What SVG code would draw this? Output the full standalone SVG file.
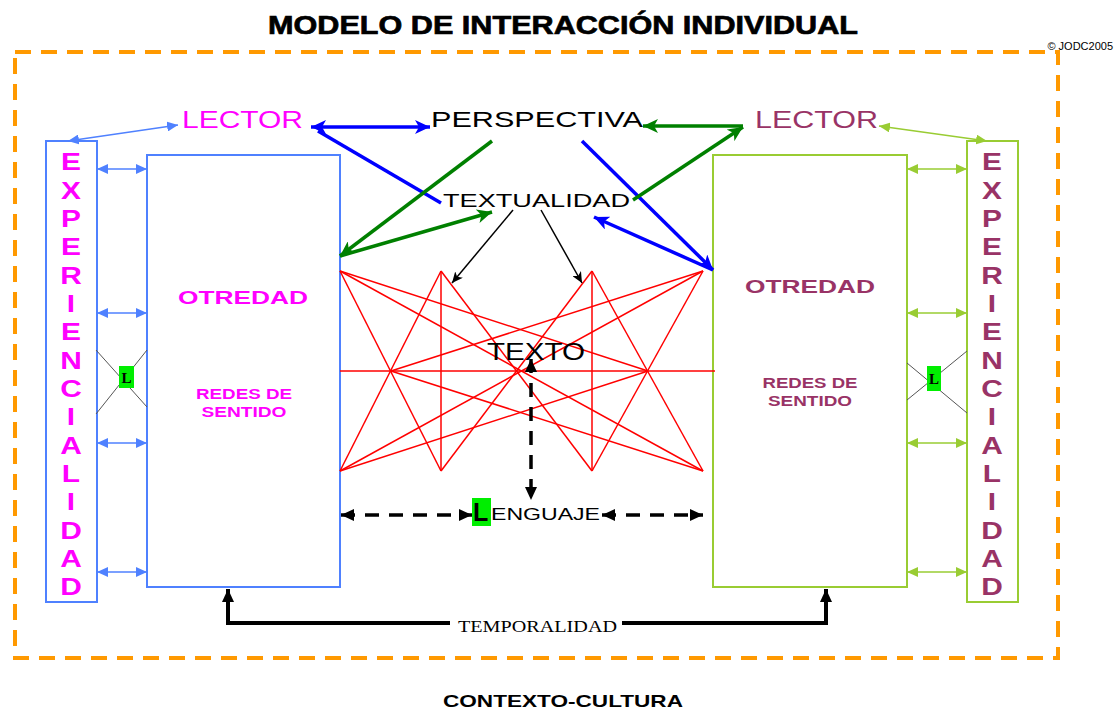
<svg xmlns="http://www.w3.org/2000/svg" width="1117" height="711" viewBox="0 0 1117 711">
<style>
.sans{font-family:"Liberation Sans",Arial,sans-serif}
.serif{font-family:"Liberation Serif","Times New Roman",serif}
.mag{fill:#FF00FF}
.plum{fill:#993366}
.blk{fill:#000}
.red line{stroke:#FF0000;stroke-width:1.5}
.bt{stroke:#4F81FF;stroke-width:1.5;fill:none}
.yg{stroke:#99CC33;stroke-width:1.5;fill:none}
.thickblue{stroke:#0000FF;stroke-width:3.5;fill:none}
.thickgreen{stroke:#008000;stroke-width:3.5;fill:none}
.dash{stroke:#000;stroke-width:3.5;stroke-dasharray:14 10;fill:none}
.gray{stroke:#555;stroke-width:1}
</style>
<defs>
<marker id="mBT" markerUnits="userSpaceOnUse" markerWidth="12" markerHeight="10" refX="11" refY="5" orient="auto-start-reverse"><path d="M0,0 L11,5 L0,10 z" fill="#4F81FF"/></marker>
<marker id="mYG" markerUnits="userSpaceOnUse" markerWidth="12" markerHeight="10" refX="11" refY="5" orient="auto-start-reverse"><path d="M0,0 L11,5 L0,10 z" fill="#99CC33"/></marker>
<marker id="mBlue" markerUnits="userSpaceOnUse" markerWidth="16" markerHeight="14" refX="15" refY="7" orient="auto-start-reverse"><path d="M0,0 L15,7 L0,14 L4,7 z" fill="#0000FF"/></marker>
<marker id="mGreen" markerUnits="userSpaceOnUse" markerWidth="16" markerHeight="14" refX="15" refY="7" orient="auto-start-reverse"><path d="M0,0 L15,7 L0,14 L4,7 z" fill="#008000"/></marker>
<marker id="mBlk" markerUnits="userSpaceOnUse" markerWidth="12" markerHeight="10" refX="11" refY="5" orient="auto-start-reverse"><path d="M0,0 L11,5 L0,10 L3,5 z" fill="#000"/></marker>
<marker id="mBlkD" markerUnits="userSpaceOnUse" markerWidth="14" markerHeight="12" refX="13" refY="6" orient="auto-start-reverse"><path d="M0,0 L13,6 L0,12 z" fill="#000"/></marker>
</defs>

<rect x="15" y="52" width="1043" height="606" fill="none" stroke="#FF9900" stroke-width="4" stroke-dasharray="16 10"/>

<g id="title">
<text class="sans blk" x="563" y="34" font-size="26" font-weight="bold" stroke="#000" stroke-width="0.7" text-anchor="middle" textLength="590" lengthAdjust="spacingAndGlyphs">MODELO DE INTERACCIÓN INDIVIDUAL</text>
<text class="sans blk" x="1113" y="50" font-size="11" text-anchor="end">© JODC2005</text>
</g>

<g id="experiencialidad-left">
<rect x="46" y="141" width="51" height="461" fill="none" stroke="#4F81FF" stroke-width="2"/>
<g transform="translate(71,0) scale(1.3,1)" class="sans mag" font-size="23" font-weight="bold" text-anchor="middle">
<text x="0" y="170.5">E</text><text x="0" y="198.8">X</text><text x="0" y="227.2">P</text><text x="0" y="255.5">E</text><text x="0" y="283.8">R</text><text x="0" y="312.2">I</text><text x="0" y="340.5">E</text><text x="0" y="368.8">N</text><text x="0" y="397.1">C</text><text x="0" y="425.5">I</text><text x="0" y="453.8">A</text><text x="0" y="482.1">L</text><text x="0" y="510.5">I</text><text x="0" y="538.8">D</text><text x="0" y="567.1">A</text><text x="0" y="595.5">D</text>
</g>
</g>

<g id="experiencialidad-right">
<rect x="967" y="141" width="51" height="461" fill="none" stroke="#99CC33" stroke-width="2"/>
<g transform="translate(992,0) scale(1.3,1)" class="sans plum" font-size="23" font-weight="bold" text-anchor="middle">
<text x="0" y="170.5">E</text><text x="0" y="198.8">X</text><text x="0" y="227.2">P</text><text x="0" y="255.5">E</text><text x="0" y="283.8">R</text><text x="0" y="312.2">I</text><text x="0" y="340.5">E</text><text x="0" y="368.8">N</text><text x="0" y="397.1">C</text><text x="0" y="425.5">I</text><text x="0" y="453.8">A</text><text x="0" y="482.1">L</text><text x="0" y="510.5">I</text><text x="0" y="538.8">D</text><text x="0" y="567.1">A</text><text x="0" y="595.5">D</text>
</g>
</g>

<g id="otredad-left">
<rect x="147" y="155" width="193" height="432" fill="#fff" stroke="#4F81FF" stroke-width="2"/>
<text class="sans mag" x="243" y="304" font-size="18" font-weight="bold" text-anchor="middle" textLength="130" lengthAdjust="spacingAndGlyphs">OTREDAD</text>
<text class="sans mag" x="244" y="399" font-size="14" font-weight="bold" text-anchor="middle" textLength="96" lengthAdjust="spacingAndGlyphs">REDES DE</text>
<text class="sans mag" x="244" y="417" font-size="14" font-weight="bold" text-anchor="middle" textLength="85" lengthAdjust="spacingAndGlyphs">SENTIDO</text>
</g>

<g id="otredad-right">
<rect x="713" y="155" width="194" height="432" fill="#fff" stroke="#99CC33" stroke-width="2"/>
<text class="sans plum" x="810" y="293" font-size="18" font-weight="bold" text-anchor="middle" textLength="130" lengthAdjust="spacingAndGlyphs">OTREDAD</text>
<text class="sans plum" x="810" y="388" font-size="14" font-weight="bold" text-anchor="middle" textLength="95" lengthAdjust="spacingAndGlyphs">REDES DE</text>
<text class="sans plum" x="810" y="406" font-size="14" font-weight="bold" text-anchor="middle" textLength="84" lengthAdjust="spacingAndGlyphs">SENTIDO</text>
</g>

<g id="connectors">
<g class="red">
<line x1="340" y1="371" x2="715" y2="371"/>
<line x1="340" y1="271" x2="441" y2="471"/>
<line x1="340" y1="471" x2="441" y2="271"/>
<line x1="703" y1="271" x2="592" y2="471"/>
<line x1="703" y1="471" x2="592" y2="271"/>
<line x1="441" y1="271" x2="441" y2="471"/>
<line x1="592" y1="271" x2="592" y2="471"/>
<line x1="441" y1="271" x2="592" y2="471"/>
<line x1="441" y1="471" x2="592" y2="271"/>
<line x1="340" y1="271" x2="648" y2="371"/>
<line x1="340" y1="471" x2="648" y2="371"/>
<line x1="703" y1="271" x2="391" y2="371"/>
<line x1="703" y1="471" x2="391" y2="371"/>
<line x1="340" y1="271" x2="703" y2="471"/>
<line x1="340" y1="471" x2="703" y2="271"/>
</g>

<line class="bt" x1="97" y1="169" x2="147" y2="169" marker-start="url(#mBT)" marker-end="url(#mBT)"/>
<line class="bt" x1="97" y1="313" x2="147" y2="313" marker-start="url(#mBT)" marker-end="url(#mBT)"/>
<line class="bt" x1="97" y1="443" x2="147" y2="443" marker-start="url(#mBT)" marker-end="url(#mBT)"/>
<line class="bt" x1="97" y1="572" x2="147" y2="572" marker-start="url(#mBT)" marker-end="url(#mBT)"/>
<line class="yg" x1="907" y1="169" x2="967" y2="169" marker-start="url(#mYG)" marker-end="url(#mYG)"/>
<line class="yg" x1="907" y1="313" x2="967" y2="313" marker-start="url(#mYG)" marker-end="url(#mYG)"/>
<line class="yg" x1="907" y1="443" x2="967" y2="443" marker-start="url(#mYG)" marker-end="url(#mYG)"/>
<line class="yg" x1="907" y1="572" x2="967" y2="572" marker-start="url(#mYG)" marker-end="url(#mYG)"/>

<line class="gray" x1="96" y1="350" x2="147" y2="407"/>
<line class="gray" x1="147" y1="350" x2="96" y2="414"/>
<line class="gray" x1="907" y1="363" x2="967" y2="413"/>
<line class="gray" x1="907" y1="400" x2="967" y2="351"/>

<line class="bt" x1="68" y1="141" x2="178" y2="125" marker-start="url(#mBT)" marker-end="url(#mBT)"/>
<line class="yg" x1="879" y1="126" x2="987" y2="141" marker-start="url(#mYG)" marker-end="url(#mYG)"/>

<line class="thickblue" x1="311" y1="127" x2="430" y2="127" marker-start="url(#mBlue)" marker-end="url(#mBlue)"/>
<line class="thickblue" x1="318" y1="131" x2="441" y2="203"/>
<line class="thickblue" x1="582" y1="141" x2="713" y2="270" marker-end="url(#mBlue)"/>
<line class="thickblue" x1="713" y1="270" x2="594" y2="217" marker-end="url(#mBlue)"/>

<line class="thickgreen" x1="743" y1="126" x2="643" y2="126" marker-end="url(#mGreen)"/>
<line class="thickgreen" x1="633" y1="200" x2="743" y2="127" marker-end="url(#mGreen)"/>
<line class="thickgreen" x1="492" y1="141" x2="340" y2="256" marker-end="url(#mGreen)"/>
<line class="thickgreen" x1="340" y1="256" x2="492" y2="212" marker-end="url(#mGreen)"/>

<line x1="513" y1="210" x2="452" y2="283" stroke="#000" stroke-width="1.5" marker-end="url(#mBlk)"/>
<line x1="541" y1="210" x2="582" y2="283" stroke="#000" stroke-width="1.5" marker-end="url(#mBlk)"/>

<line class="dash" x1="531" y1="359" x2="531" y2="500" marker-start="url(#mBlkD)" marker-end="url(#mBlkD)"/>
<line class="dash" x1="341" y1="515" x2="472" y2="515" marker-start="url(#mBlkD)" marker-end="url(#mBlkD)"/>
<line class="dash" x1="602" y1="515" x2="703" y2="515" marker-start="url(#mBlkD)" marker-end="url(#mBlkD)"/>

<path d="M450,623 H228 V589" stroke="#000" stroke-width="4" fill="none" marker-end="url(#mBlkD)"/>
<path d="M622,623 H826 V589" stroke="#000" stroke-width="4" fill="none" marker-end="url(#mBlkD)"/>
</g>

<g id="lector-left">
<text class="sans mag" x="182" y="128" font-size="23" textLength="121" lengthAdjust="spacingAndGlyphs">LECTOR</text>
</g>
<g id="lector-right">
<text class="sans plum" x="755" y="128" font-size="23" textLength="123" lengthAdjust="spacingAndGlyphs">LECTOR</text>
</g>
<g id="perspectiva">
<text class="sans blk" x="431" y="127" font-size="22" textLength="212" lengthAdjust="spacingAndGlyphs">PERSPECTIVA</text>
</g>
<g id="textualidad">
<text class="sans blk" x="443" y="207" font-size="19" textLength="187" lengthAdjust="spacingAndGlyphs">TEXTUALIDAD</text>
</g>
<g id="texto">
<text class="sans blk" x="487" y="360" font-size="23" textLength="98" lengthAdjust="spacingAndGlyphs">TEXTO</text>
</g>
<g id="lenguaje">
<rect x="472" y="498" width="19" height="28" fill="#00EE00"/>
<text class="sans blk" x="473" y="521" font-size="25" font-weight="bold">L</text>
<text class="sans blk" x="491" y="520" font-size="16" textLength="109" lengthAdjust="spacingAndGlyphs">ENGUAJE</text>
</g>
<g id="l-left">
<rect x="119" y="366" width="15" height="22" fill="#00EE00"/>
<text class="serif blk" x="126.5" y="383" font-size="15" font-weight="bold" text-anchor="middle">L</text>
</g>
<g id="l-right">
<rect x="927" y="366" width="14" height="25" fill="#00EE00"/>
<text class="serif blk" x="934" y="384" font-size="15" font-weight="bold" text-anchor="middle">L</text>
</g>
<g id="temporalidad">
<text class="serif blk" x="458" y="632" font-size="17" textLength="159" lengthAdjust="spacingAndGlyphs">TEMPORALIDAD</text>
</g>
<g id="contexto">
<text class="sans blk" x="563" y="707" font-size="17" font-weight="bold" text-anchor="middle" textLength="240" lengthAdjust="spacingAndGlyphs">CONTEXTO-CULTURA</text>
</g>
</svg>
